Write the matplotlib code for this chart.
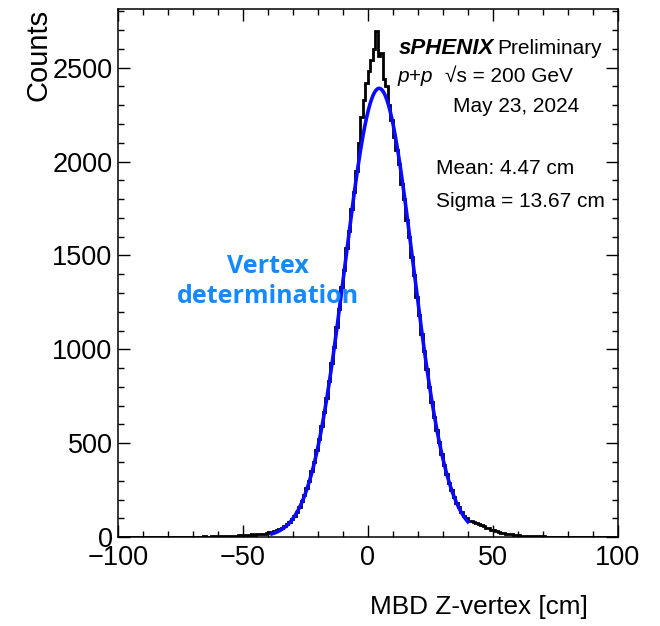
## MBD z-vertex distribution with gaussian fit (sPHENIX style)

import numpy as np
import matplotlib.pyplot as plt
from matplotlib.ticker import MultipleLocator

plt.rcParams['font.family'] = ['Liberation Sans', 'DejaVu Sans']

## histogram: 1 cm bins from -100 to 100
edges = np.arange(-100, 101, 1)
counts = [
    1, 0, 2, 1, 1, 0, 2, 1, 1, 2,          # -100 .. -91
    1, 1, 2, 0, 1, 2, 1, 1, 2, 2,          # -90 .. -81
    1, 2, 2, 1, 3, 2, 1, 2, 3, 2,          # -80 .. -71
    2, 3, 3, 2, 4, 3, 3, 4, 4, 5,          # -70 .. -61
    4, 5, 6, 5, 6, 7, 8, 7, 9, 10,         # -60 .. -51
    10, 12, 11, 14, 13, 16, 17, 19, 18, 22,  # -50 .. -41
    26, 28, 31, 36, 42, 50, 57, 68, 80, 94,  # -40 .. -31
    112, 136, 158, 190, 222, 262, 300, 350, 398, 462,
    525, 590, 668, 742, 830, 925, 1015, 1120, 1215, 1330,
    1425, 1540, 1632, 1745, 1840, 1950, 2100, 2240, 2330, 2420,
    2480, 2540, 2600, 2697, 2560, 2580, 2440, 2400, 2300, 2220,  # 0 .. 9
    2130, 2060, 1985, 1880, 1800, 1690, 1600, 1490, 1395, 1280,
    1185, 1080, 990, 895, 800, 722, 640, 572, 505, 440,
    386, 335, 290, 250, 215, 184, 158, 134, 114, 100,
    88, 84, 80, 74, 70, 66, 58, 50, 46, 40,  # 40 .. 49
    36, 32, 28, 24, 21, 19, 17, 14, 12, 10,
    9, 8, 8, 7, 6, 6, 5, 5, 4, 4,
    4, 3, 3, 3, 2, 3, 2, 2, 3, 2,
    2, 1, 2, 2, 1, 2, 1, 1, 2, 1,
    1, 1, 0, 1, 1, 2, 1, 0, 1, 1,          # 90 .. 99
]

## fit parameters
fit_amp = 2390.0
fit_mean = 4.47
fit_sigma = 13.67
fit_lo, fit_hi = -38.5, 40.0

fig = plt.figure(figsize=(6.6, 6.26), dpi=100)
ax = fig.add_axes([0.179, 0.142, 0.757, 0.844])

ax.stairs(counts, edges, color='black', linewidth=2.0)

xf = np.linspace(fit_lo, fit_hi, 400)
yf = fit_amp * np.exp(-0.5 * ((xf - fit_mean) / fit_sigma) ** 2)
ax.plot(xf, yf, color='#0a0aff', linewidth=2.6)

ax.set_xlim(-100, 100)
ax.set_ylim(0, 2814)

ax.xaxis.set_major_locator(MultipleLocator(50))
ax.xaxis.set_minor_locator(MultipleLocator(10))
ax.yaxis.set_major_locator(MultipleLocator(500))
ax.yaxis.set_minor_locator(MultipleLocator(100))
ax.tick_params(which='both', direction='in', top=True, right=True,
               labelsize=19.5, width=1.0)
ax.tick_params(which='major', length=8.5)
ax.tick_params(which='minor', length=4.5)
ax.tick_params(axis='x', pad=6)
ax.tick_params(axis='y', pad=4)
for s in ax.spines.values():
    s.set_linewidth(1.1)

ax.set_ylabel('Counts', fontsize=21, loc='top', labelpad=0)
fig.text(588 / 660, 1 - 607 / 626, 'MBD Z-vertex [cm]', fontsize=18.8,
         ha='right', va='center')

## labels
tsize = 15
ax.text(0.562, 0.915, 'sPHENIX', transform=ax.transAxes, fontsize=16,
        fontweight='bold', fontstyle='italic')
ax.text(0.758, 0.915, 'Preliminary', transform=ax.transAxes, fontsize=tsize)
ax.text(0.56, 0.862, 'p+p', transform=ax.transAxes, fontsize=tsize,
        fontstyle='italic')
ax.text(0.654, 0.862, '\u221As = 200 GeV', transform=ax.transAxes,
        fontsize=tsize)
ax.text(0.67, 0.805, 'May 23, 2024', transform=ax.transAxes, fontsize=tsize)
ax.text(0.636, 0.688, 'Mean: 4.47 cm', transform=ax.transAxes, fontsize=tsize)
ax.text(0.636, 0.625, 'Sigma = 13.67 cm', transform=ax.transAxes, fontsize=tsize)

ax.text(0.30, 0.484, 'Vertex\ndetermination', transform=ax.transAxes,
        fontsize=18, fontweight='bold', color='#1589ff', ha='center',
        va='center', family=['Open Sans', 'DejaVu Sans'], linespacing=1.3)

fig.savefig('out.png', dpi=100)
